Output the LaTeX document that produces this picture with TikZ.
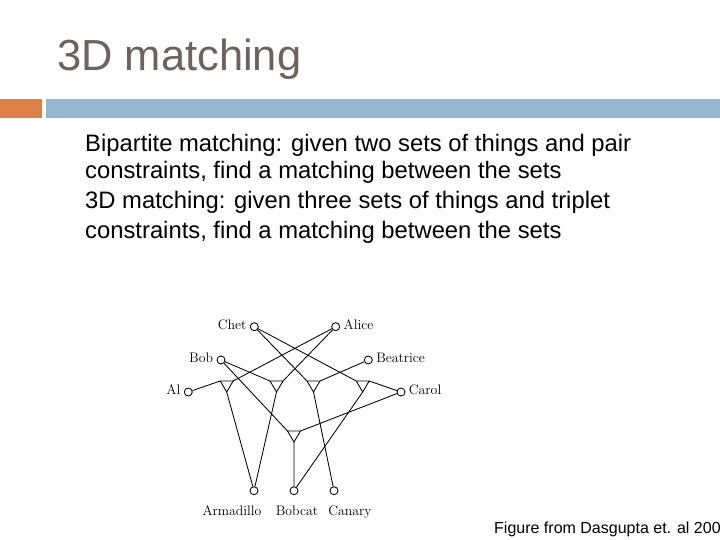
\documentclass[tikz,border=0pt]{standalone}
\usepackage{fontspec}
\newfontfamily\slidefont{Liberation Sans}
\usetikzlibrary{positioning,calc}
\definecolor{titlegray}{RGB}{110,98,92}
\definecolor{barorange}{RGB}{221,128,71}
\definecolor{barblue}{RGB}{148,182,210}
\tikzset{
  person/.style={circle, draw, fill=white, line width=0.85pt, minimum size=8pt, inner sep=0pt},
  link/.style={line width=0.85pt},
  bodyline/.style={anchor=base west, inner sep=0pt, font=\slidefont\fontsize{23.8}{28}\selectfont},
  pics/gadget/.style={code={
    \coordinate (-l) at (-6.5,0);
    \coordinate (-r) at (6.5,0);
    \coordinate (-a) at (0,11);
    \draw[link] (-l) -- (-r) -- (-a) -- cycle;
  }}
}
\begin{document}
\begin{tikzpicture}[x=1pt, y=-1pt, every label/.style={font=\fontsize{13.8}{16}\selectfont, text height=1.6ex, text depth=0.3ex}]
        \useasboundingbox (0,0) rectangle (720,540);
        \clip (0,0) rectangle (720,540);
        % Title and bar
        \node[anchor=base west, inner sep=0pt, text=titlegray, font=\slidefont\fontsize{43.5}{50}\selectfont] (title) at (57,71) {3D matching};
        \fill[barorange] (0,99.3) rectangle (42,118.3);
        \fill[barblue] (46,99.3) rectangle (720,118.3);
        % Text
        \node[bodyline] (ln1) at (85,152) {Bipartite matching: given two sets of things and pair};
        \node[bodyline] (ln2) at (85,179) {constraints, find a matching between the sets};
        \node[bodyline] (ln3) at (85,209) {3D matching: given three sets of things and triplet};
        \node[bodyline] (ln4) at (85,238) {constraints, find a matching between the sets};
        % People and pets
        \node[person, label=left:Chet] (chet) at (254.3,326.7) {};
        \node[person, label=right:Alice] (alice) at (335.7,326.7) {};
        \node[person, label=left:Bob] (bob) at (221,360) {};
        \node[person, label=right:Beatrice] (beatrice) at (368.3,360) {};
        \node[person, label=left:Al] (al) at (188.3,392) {};
        \node[person, label=right:Carol] (carol) at (401,392) {};
        \node[person, label={[xshift=-22pt, label distance=10pt]below:Armadillo}] (armadillo) at (254,490.7) {};
        \node[person, label={[xshift=3pt, label distance=10pt]below:Bobcat}] (bobcat) at (294,490.7) {};
        \node[person, label={[xshift=16pt, label distance=10pt]below:Canary}] (canary) at (334,490.7) {};
        % Triplets
        \pic (t1) at (226.7,381) {gadget};
        \pic (t2) at (276.5,381) {gadget};
        \pic (t3) at (313.5,381) {gadget};
        \pic (t4) at (362.7,381) {gadget};
        \pic (t5) at (294,431) {gadget};
        \draw[link] (al) -- (t1-l) (alice) -- (t1-r) (t1-a) -- (armadillo);
        \draw[link] (bob) -- (t2-l) (alice) -- (t2-r) (t2-a) -- (armadillo);
        \draw[link] (chet) -- (t3-l) (beatrice) -- (t3-r) (t3-a) -- (canary);
        \draw[link] (chet) -- (t4-l) (carol) -- (t4-r) (t4-a) -- (bobcat);
        \draw[link] (bob) -- (t5-l) (carol) -- (t5-r) (t5-a) -- (bobcat);
        % Credit
        \node[anchor=base west, inner sep=0pt, font=\slidefont\fontsize{16}{19}\selectfont] (credit) at (494,533) {Figure from Dasgupta et. al 200};
    \end{tikzpicture}
\end{document}
